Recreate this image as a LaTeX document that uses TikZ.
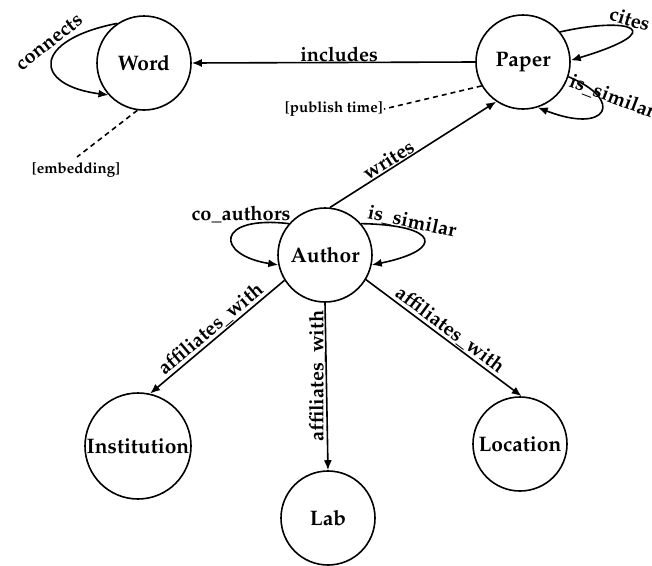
\documentclass[tikz,border=0pt]{standalone}
\usepackage[T1]{fontenc}
\usepackage{mathpazo}
\usetikzlibrary{arrows.meta}
\tikzset{
  ent/.style={circle,draw,line width=1.6pt,inner sep=0pt,minimum size=94pt,
    font=\fontsize{21}{25}\selectfont\bfseries},
  rel/.style={line width=1.6pt,-{Latex[length=10pt,width=8pt]}},
  lbl/.style={font=\fontsize{20}{24}\selectfont\bfseries,inner sep=1pt},
  attr/.style={line width=1.6pt,dash pattern=on 5pt off 4pt},
  attrlbl/.style={font=\fontsize{15}{18}\selectfont\bfseries,inner sep=1pt},
}
\begin{document}
\begin{tikzpicture}[x=1pt,y=-1pt]
\useasboundingbox (0,0) rectangle (652,565);
\clip (0,0) rectangle (652,565);
% entities
\node[ent] (word) at (144,63) {Word};
\node[ent] (paper) at (523,62) {Paper};
\node[ent] (author) at (325,255) {Author};
\node[ent,minimum size=106pt] (inst) at (138,446) {Institution};
\node[ent] (lab) at (328,518) {Lab};
\node[ent] (loc) at (520,444) {Location};
% includes
\draw[rel] (paper.west) -- (word.east)
  node[lbl,pos=0.48,above,inner sep=0pt] (lincl) {includes};
% connects loop
\draw[rel] (word.124) .. controls (32,40) and (32,85) .. (word.222);
\node[lbl,rotate=38] (lconn) at (49,42) {connects};
% embedding
\coordinate (embend) at (77,157);
\draw[attr] (word.262) -- (embend);
\node[attrlbl] (lemb) at (76,170) {[embedding]};
% cites loop
\draw[rel] (paper.39) .. controls (630,16) and (672,30) .. (paper.2);
\node[lbl,rotate=-17] (lcites) at (630,19) {cites};
% paper is_similar loop
\draw[rel] (paper.-18) .. controls (625,100) and (608,135) .. (paper.-72);
\node[lbl,rotate=-21,anchor=base west] (lpsim) at (567,86) {is\_similar};
% publish time
\coordinate (pubend) at (384,109);
\draw[attr] (paper.210) -- (pubend);
\node[attrlbl,anchor=east] (lpub) at (pubend) {[publish time]};
% writes
\draw[rel] (author.84) -- (paper.236)
  node[lbl,pos=0.38,sloped,above] (lwrites) {writes};
% co_authors loop
\draw[rel] (author.139) .. controls (215,215) and (215,255) .. (author.192);
\node[lbl,anchor=base] (lco) at (241,220) {co\_authors};
% author is_similar loop
\draw[rel] (author.41) .. controls (440,225) and (445,250) .. (author.-12);
\node[lbl,rotate=-12] (lasim) at (412,222) {is\_similar};
% affiliates_with
\draw[rel] (author.212) -- (inst.77)
  node[lbl,midway,sloped,above] (laff1) {affiliates\_with};
\draw[rel] (author.south) -- (lab.north);
\node[lbl,rotate=90,anchor=south] (laff2) at (327,376) {affiliates\_with};
\draw[rel] (author.329) -- (loc.88)
  node[lbl,midway,sloped,above] (laff3) {affiliates\_with};
\end{tikzpicture}
\end{document}
